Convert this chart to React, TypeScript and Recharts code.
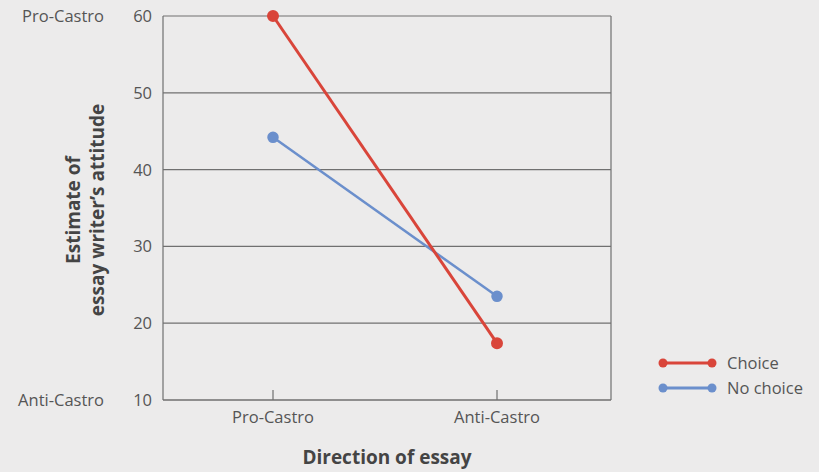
import React from "react";
import { LineChart, Line, XAxis, YAxis, CartesianGrid } from "recharts";

const categories = ["Pro-Castro", "Anti-Castro"];
const choiceValues = [60, 17.4];
const noChoiceValues = [44.2, 23.5];
const yTicks = [10, 20, 30, 40, 50, 60];
const yEndLabels: Record<number, string> = { 60: "Pro-Castro", 10: "Anti-Castro" };
const legendItems = ["Choice", "No choice"];

const data = categories.map((c, i) => ({ cat: c, choice: choiceValues[i], noChoice: noChoiceValues[i] }));

const RED = "#d9453a";
const BLUE = "#6b8fcc";
const GRID = "#707070";
const TEXT = "#555";
const FONT = "'Open Sans', sans-serif";

const YTick = (props: any) => {
  const { y, payload } = props;
  const end = yEndLabels[payload.value];
  return (
    <g>
      <text x={152} y={y} dy={6} textAnchor="end" fontSize={16.5} fill={TEXT} fontFamily={FONT}>
        {payload.value}
      </text>
      {end && (
        <text x={104} y={y} dy={6} textAnchor="end" fontSize={16.5} fill={TEXT} fontFamily={FONT}>
          {end}
        </text>
      )}
    </g>
  );
};

const XTick = (props: any) => {
  const { x, y, payload } = props;
  return (
    <g>
      <line x1={x} x2={x} y1={y} y2={y - 10} stroke={GRID} strokeWidth={1.2} />
      <text x={x} y={y + 23} textAnchor="middle" fontSize={16.5} fill={TEXT} fontFamily={FONT}>
        {payload.value}
      </text>
    </g>
  );
};

const LegendBox = () => (
  <div style={{ position: "absolute", left: 655, top: 350, fontFamily: FONT, fontSize: 16.5, color: TEXT }}>
    {legendItems.map((n, i) => {
      const c = i === 0 ? RED : BLUE;
      return (
        <div key={n} style={{ display: "flex", alignItems: "center", height: 25 }}>
          <svg width={66} height={14}>
            <line x1={8} x2={57} y1={7} y2={7} stroke={c} strokeWidth={3} />
            <circle cx={8} cy={7} r={4.5} fill={c} />
            <circle cx={57} cy={7} r={4.5} fill={c} />
          </svg>
          <span style={{ marginLeft: 6 }}>{n}</span>
        </div>
      );
    })}
  </div>
);

const YTitle = () => (
  <g fontFamily={FONT} fontSize={19} fontWeight="bold" fill="#444">
    <text transform="translate(80,210) rotate(-90)" textAnchor="middle">Estimate of</text>
    <text transform="translate(104,210) rotate(-90)" textAnchor="middle">essay writer’s attitude</text>
  </g>
);

export default function App() {
  return (
    <div style={{ position: "fixed", left: 0, top: 0, width: 819, height: 472, background: "#ecebeb" }}>
      <LineChart width={819} height={472} data={data} margin={{ top: 16, right: 208, bottom: 0, left: 0 }}>
        <CartesianGrid
          stroke={GRID}
          strokeWidth={1.2}
          verticalCoordinatesGenerator={({ offset }: any) => [offset.left + offset.width]}
        />
        <XAxis
          dataKey="cat"
          height={72}
          padding={{ left: 110, right: 114 }}
          axisLine={{ stroke: GRID, strokeWidth: 1.2 }}
          tickLine={false}
          tickSize={0}
          tickMargin={0}
          tick={<XTick />}
          label={{ value: "Direction of essay", position: "insideBottom", offset: 8, fontFamily: FONT, fontSize: 19, fontWeight: "bold", fill: "#444" } as any}
        />
        <YAxis
          width={163}
          domain={[10, 60]}
          ticks={yTicks}
          axisLine={{ stroke: GRID, strokeWidth: 1.2 }}
          tickLine={false}
          tick={<YTick />}
          label={<YTitle /> as any}
        />
        <Line dataKey="noChoice" stroke={BLUE} strokeWidth={2.5} dot={{ r: 4.5, fill: BLUE, stroke: BLUE }} isAnimationActive={false} />
        <Line dataKey="choice" stroke={RED} strokeWidth={3} dot={{ r: 4.5, fill: RED, stroke: RED }} isAnimationActive={false} />
      </LineChart>
      <LegendBox />
    </div>
  );
}
